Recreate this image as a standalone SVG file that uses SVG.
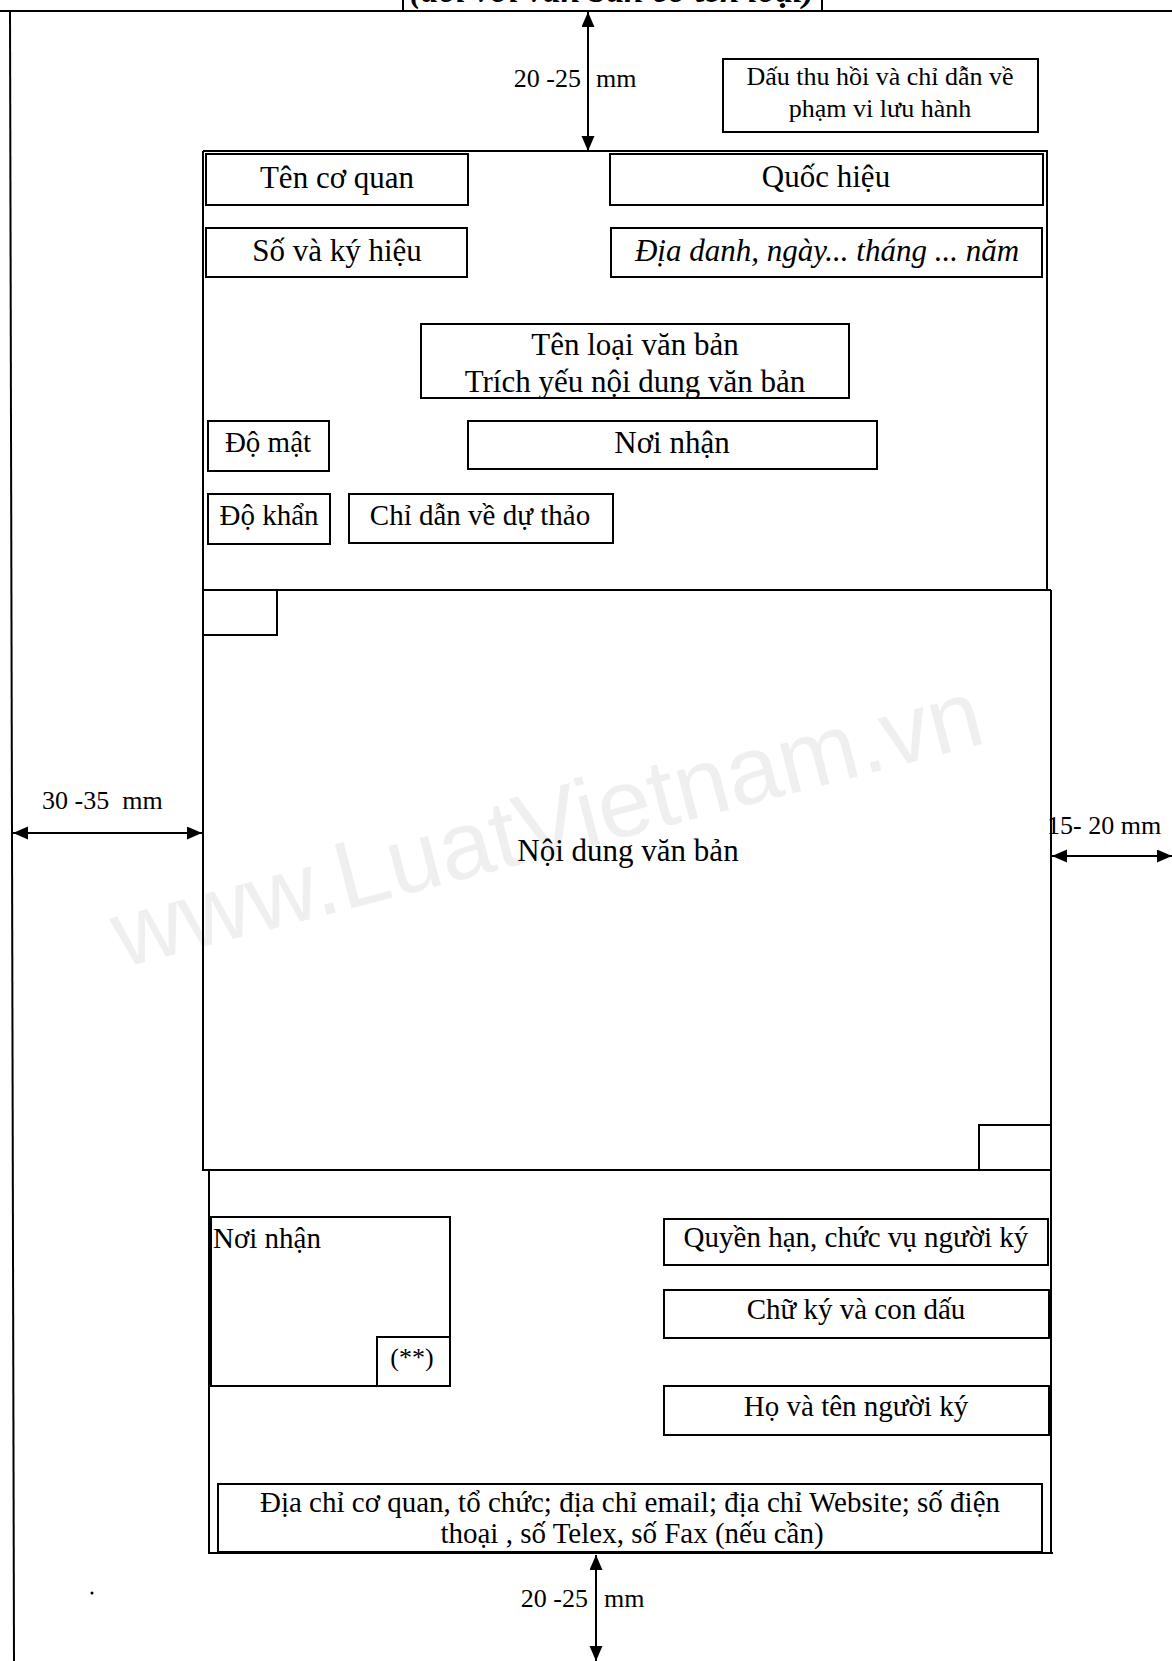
<svg xmlns="http://www.w3.org/2000/svg" width="1172" height="1661" viewBox="0 0 1172 1661">
<defs>
<marker id="ah" markerUnits="userSpaceOnUse" markerWidth="16" markerHeight="14" refX="15" refY="6.5" orient="auto-start-reverse"><path d="M0,0 L15,6.5 L0,13 z" fill="#000"/></marker>
<style>
.t{font-family:"Liberation Serif","Times New Roman",serif;fill:#000;}
.c{text-anchor:middle;}
.b{fill:#fff;stroke:#000;stroke-width:2;}
.ln{fill:none;stroke:#000;stroke-width:2;}
.dim{fill:none;stroke:#000;stroke-width:2;marker-start:url(#ah);marker-end:url(#ah);}
.h{font-size:31px;}
.m{font-size:29px;}
.s{font-size:26px;}
</style>
</defs>
<rect x="0" y="0" width="1172" height="1661" fill="#fff"/>
<text x="122" y="968" transform="rotate(-14.6 122 968)" font-family="Liberation Sans, Arial, sans-serif" font-size="96" fill="#efefef">www.LuatVietnam.vn</text>

<g id="page-frame">
<line class="ln" x1="0" y1="11" x2="1172" y2="11"/>
<line class="ln" x1="10" y1="11" x2="14" y2="1661"/>
<rect x="403" y="-6" width="419" height="17" class="b"/>
<text class="t c" x="612" y="2" font-size="33" font-weight="bold" font-style="italic" textLength="405" lengthAdjust="spacingAndGlyphs">(đối với văn bản có tên loại)</text>
<circle cx="92" cy="1593" r="1.5" fill="#000"/>
</g>

<g id="content-frame">
<path class="ln" d="M203,151 L1047,151 L1047,590 M203,151 L203,1170 L209,1170 L209,1553 L1053,1553 M1051,590 L1051,1553"/>
<line class="ln" x1="203" y1="590" x2="1051" y2="590"/>
<line class="ln" x1="203" y1="1170" x2="1051" y2="1170"/>
<rect class="b" x="203" y="590" width="74" height="45"/>
<rect class="b" x="979" y="1125" width="72" height="45"/>
<text class="t c h" x="628" y="861">Nội dung văn bản</text>
</g>

<g id="dau-thu-hoi">
<rect class="b" x="723" y="59" width="315" height="73"/>
<text class="t c s" x="880" y="85">Dấu thu hồi và chỉ dẫn về</text>
<text class="t c s" x="880" y="117">phạm vi lưu hành</text>
</g>

<g id="ten-co-quan"><rect class="b" x="206" y="154" width="262" height="51"/><text class="t c h" x="337" y="188">Tên cơ quan</text></g>
<g id="quoc-hieu"><rect class="b" x="610" y="154" width="433" height="51"/><text class="t c h" x="826" y="187">Quốc hiệu</text></g>
<g id="so-ky-hieu"><rect class="b" x="206" y="228" width="261" height="49"/><text class="t c h" x="337" y="261">Số và ký hiệu</text></g>
<g id="dia-danh"><rect class="b" x="611" y="228" width="431" height="49"/><text class="t c h" x="827" y="261" font-style="italic">Địa danh, ngày... tháng ... năm</text></g>
<g id="ten-loai"><rect class="b" x="421" y="324" width="428" height="74"/><text class="t c h" x="635" y="355">Tên loại văn bản</text><text class="t c h" x="635" y="392">Trích yếu nội dung văn bản</text></g>
<g id="do-mat"><rect class="b" x="208" y="421" width="121" height="50"/><text class="t c m" x="268" y="452">Độ mật</text></g>
<g id="noi-nhan-top"><rect class="b" x="468" y="421" width="409" height="48"/><text class="t c h" x="672" y="453">Nơi nhận</text></g>
<g id="do-khan"><rect class="b" x="208" y="494" width="122" height="50"/><text class="t c m" x="269" y="525">Độ khẩn</text></g>
<g id="chi-dan"><rect class="b" x="349" y="494" width="264" height="49"/><text class="t c m" x="480" y="525">Chỉ dẫn về dự thảo</text></g>

<g id="noi-nhan-bottom"><rect class="b" x="211" y="1217" width="239" height="169"/><text class="t m" x="213" y="1248">Nơi nhận</text>
<rect class="b" x="377" y="1337" width="73" height="49"/><text class="t c s" x="412" y="1366">(**)</text></g>
<g id="quyen-han"><rect class="b" x="664" y="1219" width="384" height="46"/><text class="t c m" x="856" y="1247">Quyền hạn, chức vụ người ký</text></g>
<g id="chu-ky"><rect class="b" x="664" y="1290" width="385" height="48"/><text class="t c m" x="856" y="1319">Chữ ký và con dấu</text></g>
<g id="ho-ten"><rect class="b" x="664" y="1386" width="385" height="49"/><text class="t c m" x="856" y="1416">Họ và tên người ký</text></g>
<g id="dia-chi"><rect class="b" x="218" y="1484" width="824" height="68"/><text class="t c m" x="630" y="1512">Địa chỉ cơ quan, tổ chức; địa chỉ email; địa chỉ Website; số điện</text><text class="t c m" x="632" y="1543">thoại , số Telex, số Fax (nếu cần)</text></g>

<g id="connectors">
<line class="dim" x1="588" y1="12" x2="588" y2="151"/>
<line class="dim" x1="13" y1="833" x2="202" y2="833"/>
<line class="dim" x1="1052" y1="856" x2="1172" y2="856"/>
<line class="dim" x1="596" y1="1555" x2="596" y2="1661"/>
<text class="t s" x="581" y="87" text-anchor="end">20 -25</text>
<text class="t s" x="596" y="87">mm</text>
<text class="t s" x="42" y="809">30 -35&#160; mm</text>
<text class="t s" x="1047" y="834">15- 20 mm</text>
<text class="t s" x="588" y="1607" text-anchor="end">20 -25</text>
<text class="t s" x="604" y="1607">mm</text>
</g>
</svg>
